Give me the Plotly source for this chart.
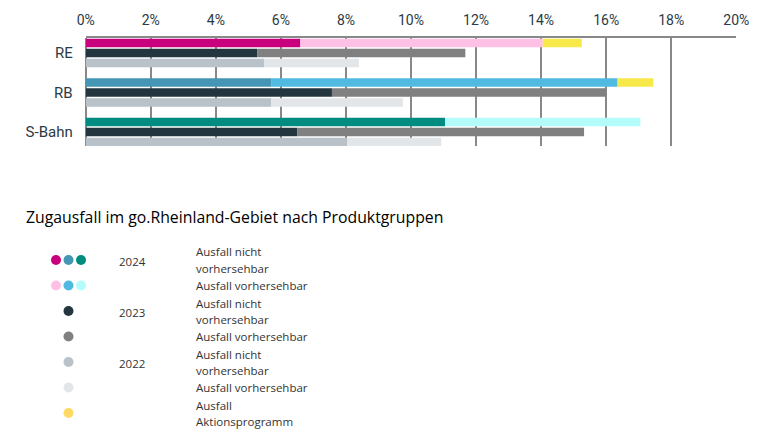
import plotly.graph_objects as go

# Daten: Zugausfall in % je Produktgruppe (Segmente, gestapelt)
produktgruppen = ["RE", "RB", "S-Bahn"]

ausfall_2024_nicht = [6.6, 5.7, 11.05]
ausfall_2024_vorh = [7.45, 10.65, 6.0]
ausfall_2024_aktion = [1.2, 1.1, 0.0]

ausfall_2023_nicht = [5.27, 7.57, 6.5]
ausfall_2023_vorh = [6.4, 8.43, 8.82]

ausfall_2022_nicht = [5.48, 5.7, 8.03]
ausfall_2022_vorh = [2.92, 4.05, 2.9]

x_ticks = [0, 2, 4, 6, 8, 10, 12, 14, 16, 18, 20]
x_tick_labels = ["0%", "2%", "4%", "6%", "8%", "10%", "12%", "14%", "16%", "18%", "20%"]

# Farben
farben_2024_nicht = ["#C8007D", "#4496B4", "#008C80"]
farben_2024_vorh = ["#FFC0E5", "#50BAE0", "#B3FCFB"]
farbe_aktion = "#F8E94A"
farbe_2023_nicht = "#233640"
farbe_2023_vorh = "#808080"
farbe_2022_nicht = "#B9C2C9"
farbe_2022_vorh = "#E3E6E9"

# Legende (eigene Darstellung unter dem Diagramm)
legende_farben = [
    farben_2024_nicht,
    farben_2024_vorh,
    [farbe_2023_nicht],
    [farbe_2023_vorh],
    [farbe_2022_nicht],
    [farbe_2022_vorh],
    ["#FFD966"],
]
legende_jahre = ["2024", "", "2023", "", "2022", "", ""]
legende_texte = [
    ["Ausfall nicht", "vorhersehbar"],
    ["Ausfall vorhersehbar"],
    ["Ausfall nicht", "vorhersehbar"],
    ["Ausfall vorhersehbar"],
    ["Ausfall nicht", "vorhersehbar"],
    ["Ausfall vorhersehbar"],
    ["Ausfall", "Aktionsprogramm"],
]

W, H = 771, 447
TEXT = "#2B3A44"
LEG_FONT = dict(family="Open Sans", size=11.5, color="#333333")


def px_x(v):
    return v / W


def px_y(v):
    return 1 - v / H


def summe(*listen):
    return [sum(w) for w in zip(*listen)]


fig = go.Figure()


def balken(werte, basis, farbe, gruppe, name):
    fig.add_trace(go.Bar(
        y=produktgruppen, x=werte, base=basis, orientation="h",
        marker=dict(color=farbe, line=dict(width=0)),
        offsetgroup=gruppe, name=name, showlegend=False,
        hovertemplate="%{y}: %{x:.1f}%<extra>" + name + "</extra>",
    ))


balken(ausfall_2024_nicht, [0, 0, 0], farben_2024_nicht, "2024", "2024 nicht vorhersehbar")
balken(ausfall_2024_vorh, ausfall_2024_nicht, farben_2024_vorh, "2024", "2024 vorhersehbar")
balken(ausfall_2024_aktion, summe(ausfall_2024_nicht, ausfall_2024_vorh), farbe_aktion, "2024",
       "2024 Aktionsprogramm")
balken(ausfall_2023_nicht, [0, 0, 0], farbe_2023_nicht, "2023", "2023 nicht vorhersehbar")
balken(ausfall_2023_vorh, ausfall_2023_nicht, farbe_2023_vorh, "2023", "2023 vorhersehbar")
balken(ausfall_2022_nicht, [0, 0, 0], farbe_2022_nicht, "2022", "2022 nicht vorhersehbar")
balken(ausfall_2022_vorh, ausfall_2022_nicht, farbe_2022_vorh, "2022", "2022 vorhersehbar")

# Legende: Punkte als Kreise, Texte als Annotationen
zeilen_y = [260, 285.5, 311, 336.5, 362, 387.5, 413]
punkt_x = [56, 68.5, 81]
shapes = []
annotations = []
r = 5
for i, (farben, jahr, zeilen) in enumerate(zip(legende_farben, legende_jahre, legende_texte)):
    yy = zeilen_y[i]
    xs = punkt_x if len(farben) == 3 else [punkt_x[1]]
    for xx, c in zip(xs, farben):
        shapes.append(dict(type="circle", xref="paper", yref="paper",
                           x0=px_x(xx - r), x1=px_x(xx + r),
                           y0=px_y(yy + r), y1=px_y(yy - r),
                           fillcolor=c, line=dict(width=0)))
    if jahr:
        annotations.append(dict(text=jahr, x=px_x(117), y=px_y(yy + 1), xref="paper", yref="paper",
                                xanchor="left", yanchor="middle", showarrow=False, font=LEG_FONT))
    for k, zeile in enumerate(zeilen):
        dy = (k - (len(zeilen) - 1) / 2) * 16
        annotations.append(dict(text=zeile, x=px_x(194), y=px_y(yy + dy), xref="paper", yref="paper",
                                xanchor="left", yanchor="middle", align="left", showarrow=False,
                                font=LEG_FONT))

annotations.append(dict(text="Zugausfall im go.Rheinland-Gebiet nach Produktgruppen",
                        x=px_x(24), y=px_y(217), xref="paper", yref="paper",
                        xanchor="left", yanchor="middle", showarrow=False,
                        font=dict(family="Open Sans", size=15.8, color="#000000")))

fig.update_layout(
    width=W, height=H,
    margin=dict(l=0, r=0, t=0, b=0, autoexpand=False),
    paper_bgcolor="white", plot_bgcolor="white",
    barmode="group", bargap=0.24, bargroupgap=0.13,
    shapes=shapes, annotations=annotations,
    xaxis=dict(
        domain=[px_x(85.7), px_x(736.3)], range=[0, 20], side="top",
        tickmode="array", tickvals=x_ticks, ticktext=x_tick_labels,
        showgrid=True, gridcolor="#888888", gridwidth=1.5,
        zeroline=True, zerolinecolor="#888888", zerolinewidth=1.5,
        showline=True, linecolor="#888888", linewidth=1.5,
        ticks="", tickfont=dict(family="Roboto", size=14, color=TEXT),
        ticklabelstandoff=6, fixedrange=True, automargin=False,
    ),
    yaxis=dict(
        domain=[px_y(146), px_y(38)], range=[2.354, -0.38],
        categoryorder="array", categoryarray=produktgruppen,
        showgrid=False, zeroline=False, showline=False, ticks="",
        tickfont=dict(family="Roboto", size=15, color=TEXT),
        ticklabelstandoff=12, fixedrange=True, automargin=False,
    ),
)

# Seitenrand entfernen, damit die Grafik bündig oben links sitzt
fig.write_html("out.html", config={"displayModeBar": False},
               post_script="document.body.style.margin='0px';")
